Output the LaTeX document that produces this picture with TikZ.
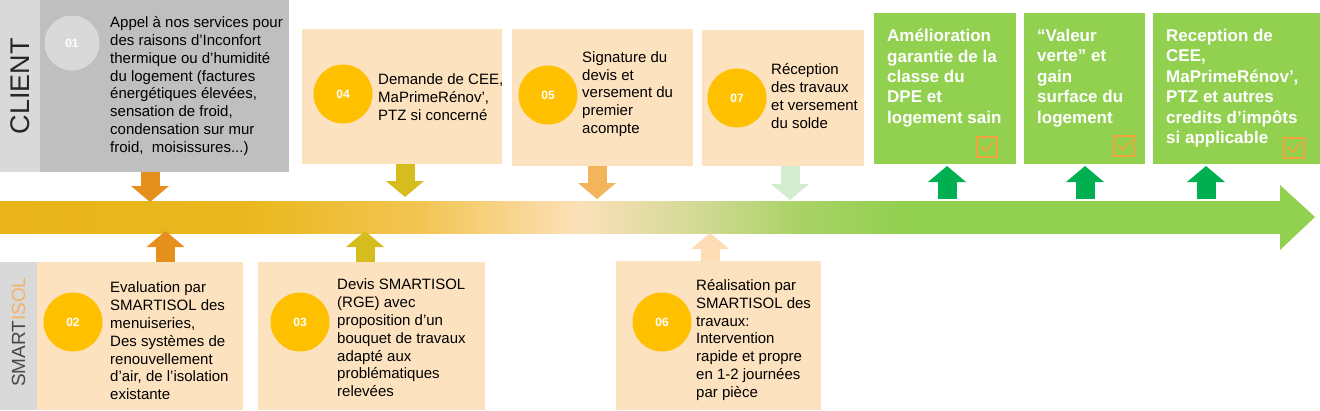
\documentclass[tikz,border=0pt]{standalone}
\usepackage{fontspec}
\setmainfont{Liberation Sans}
\usepackage{xcolor}
\usetikzlibrary{positioning, arrows.meta}

\definecolor{clientstrip}{HTML}{D9D9D9}
\definecolor{clientbox}{HTML}{BFBFBF}
\definecolor{peach}{HTML}{FDE2C0}
\definecolor{gold}{HTML}{FFC000}
\definecolor{gaingreen}{HTML}{92D050}
\definecolor{arrowgreen}{HTML}{00B050}
\definecolor{arrowA}{HTML}{E5901C}
\definecolor{arrowB}{HTML}{D4BD1C}
\definecolor{arrowC}{HTML}{F3B45A}
\definecolor{arrowD}{HTML}{FDDCB6}
\definecolor{arrowE}{HTML}{D3EBCF}
\definecolor{isolorange}{HTML}{F4B36A}
\definecolor{checkorange}{HTML}{F2A23A}
\definecolor{darktext}{HTML}{262626}
\definecolor{bandA}{HTML}{E8B41A}
\definecolor{bandB}{HTML}{EAB81E}
\definecolor{bandC}{HTML}{F2C552}
\definecolor{bandD}{HTML}{FCE0BA}
\definecolor{bandE}{HTML}{D2D994}
\definecolor{bandF}{HTML}{A9D266}

\pgfdeclarehorizontalshading{timeline}{100bp}{color(0bp)=(bandA); color(25bp)=(bandA); color(34.7bp)=(bandB); color(41.4bp)=(bandC); color(47.6bp)=(bandD); color(52.3bp)=(bandE); color(56.2bp)=(bandF); color(60.1bp)=(gaingreen); color(100bp)=(gaingreen)}

\tikzstyle{stepbox} = [rectangle, inner sep=0pt, outer sep=0pt, anchor=north west, fill=peach]
\tikzstyle{gainbox} = [rectangle, inner sep=0pt, outer sep=0pt, anchor=north west, fill=gaingreen]
\tikzstyle{num} = [circle, inner sep=0pt, minimum size=59pt, fill=gold, text=white, font=\bfseries\fontsize{12}{14}\selectfont]
\tikzstyle{steptext} = [inner sep=0pt, anchor=west, align=left, text=black, font=\fontsize{15}{17.8}\selectfont]
\tikzstyle{gaintext} = [inner sep=0pt, anchor=north west, align=left, text=white, font=\bfseries\fontsize{17}{20.4}\selectfont]
\tikzstyle{blockarrow} = [line width=19pt, -{Triangle[width=38pt, length=16pt, line width=0pt]}]
\tikzstyle{checkbox} = [rectangle, inner sep=0pt, minimum size=20pt, draw=checkorange, line width=2.4pt]
\tikzstyle{checkmark} = [checkorange, line width=1.6pt]

\begin{document}
\begin{tikzpicture}[x=1pt, y=-1pt]
\useasboundingbox (0,0) rectangle (1320,410);

% timeline
\shade[shading=timeline] (0,201) rectangle (1282,233);
\fill[gaingreen] (1280,185) -- (1315,217) -- (1280,250) -- cycle;

% client side
\node (clientlbl) [rectangle, inner sep=0pt, anchor=north west, fill=clientstrip, minimum width=40pt, minimum height=172pt] at (0,0) {};
\node [rotate=90, text=darktext, font=\fontsize{27}{30}\selectfont] at (clientlbl.center) {CLIENT};

\node (b01) [stepbox, fill=clientbox, minimum width=249pt, minimum height=172pt] at (40,0) {};
\node (c01) [num, fill=clientstrip, minimum size=55pt] at (72,43) {01};
\node (t01) [steptext] at (110,86) {Appel à nos services pour\\des raisons d'Inconfort\\thermique ou d'humidité\\du logement (factures\\énergétiques élevées,\\sensation de froid,\\condensation sur mur\\froid,\ \ moisissures...)};

\node (b04) [stepbox, minimum width=200pt, minimum height=135pt] at (302,29) {};
\node (c04) [num] at (343,94) {04};
\node (t04) [steptext] at (378,97) {Demande de CEE,\\MaPrimeRénov',\\PTZ si concerné};

\node (b05) [stepbox, minimum width=181pt, minimum height=137pt] at (512,29) {};
\node (c05) [num] at (548,95) {05};
\node (t05) [steptext] at (582,94) {Signature du\\devis et\\versement du\\premier\\acompte};

\node (b07) [stepbox, minimum width=162pt, minimum height=136pt] at (702,30) {};
\node (c07) [num] at (737,98) {07};
\node (t07) [steptext] at (771,96) {Réception\\des travaux\\et versement\\du solde};

% gains
\node (g1) [gainbox, minimum width=142pt, minimum height=151pt] at (874,13) {};
\node (tg1) [gaintext] at (887,29) {Amélioration\\garantie de la\\classe du\\DPE et\\logement sain};
\node (k1) [checkbox] at (987,147) {};

\node (g2) [gainbox, minimum width=121pt, minimum height=151pt] at (1024,13) {};
\node (tg2) [gaintext] at (1037,29) {“Valeur\\verte” et\\gain\\surface du\\logement};
\node (k2) [checkbox] at (1124,146) {};

\node (g3) [gainbox, minimum width=167pt, minimum height=151pt] at (1153,13) {};
\node (tg3) [gaintext] at (1166,29) {Reception de\\CEE,\\MaPrimeRénov’,\\PTZ et autres\\credits d’impôts\\si applicable};
\node (k3) [checkbox] at (1294,148) {};

\foreach \k in {k1,k2,k3}
  \draw[checkmark] ([shift={(-6,-1)}]\k.center) -- ([shift={(-1,4)}]\k.center) -- ([shift={(6,-5)}]\k.center);

% smartisol side
\node (smartlbl) [rectangle, inner sep=0pt, anchor=north west, fill=clientstrip, minimum width=37pt, minimum height=148pt] at (0,262) {};
\node [rotate=90, text=darktext!85!white, font=\fontsize{19}{22}\selectfont] at ([yshift=4pt]smartlbl.center) {SMART\textcolor{isolorange}{ISOL}};

\node (b02) [stepbox, minimum width=206pt, minimum height=148pt] at (37,262) {};
\node (c02) [num] at (73,322) {02};
\node (t02) [steptext] at (110,341) {Evaluation par\\SMARTISOL des\\menuiseries,\\Des systèmes de\\renouvellement\\d’air, de l’isolation\\existante};

\node (b03) [stepbox, minimum width=227pt, minimum height=148pt] at (258,262) {};
\node (c03) [num] at (300,322) {03};
\node (t03) [steptext] at (337,338) {Devis SMARTISOL\\(RGE) avec\\proposition d’un\\bouquet de travaux\\adapté aux\\problématiques\\relevées};

\node (b06) [stepbox, minimum width=205pt, minimum height=149pt] at (616,261) {};
\node (c06) [num] at (662,322) {06};
\node (t06) [steptext] at (696,340) {Réalisation par\\SMARTISOL des\\travaux:\\Intervention\\rapide et propre\\en 1-2 journées\\par pièce};

% arrows to the timeline
\draw[blockarrow, arrowA] ([xshift=-14.5pt]b01.south) -- ++(0,30);
\draw[blockarrow, arrowB] ([xshift=3pt]b04.south) -- ++(0,33);
\draw[blockarrow, arrowC] ([xshift=-5.5pt]b05.south) -- ++(0,33);
\draw[blockarrow, arrowE] ([xshift=7pt]b07.south) -- ++(0,34);
\draw[blockarrow, arrowA] ([xshift=25.5pt]b02.north) -- ++(0,-31);
\draw[blockarrow, arrowB] ([xshift=-6.5pt]b03.north) -- ++(0,-31);
\draw[blockarrow, arrowD] ([xshift=-8.5pt]b06.north) -- ++(0,-28);
\draw[blockarrow, arrowgreen] ([xshift=2pt, yshift=-35pt]g1.south) -- ++(0,-33);
\draw[blockarrow, arrowgreen] ([xshift=0.5pt, yshift=-35pt]g2.south) -- ++(0,-33);
\draw[blockarrow, arrowgreen] ([xshift=-30.5pt, yshift=-35pt]g3.south) -- ++(0,-33);

\end{tikzpicture}
\end{document}
